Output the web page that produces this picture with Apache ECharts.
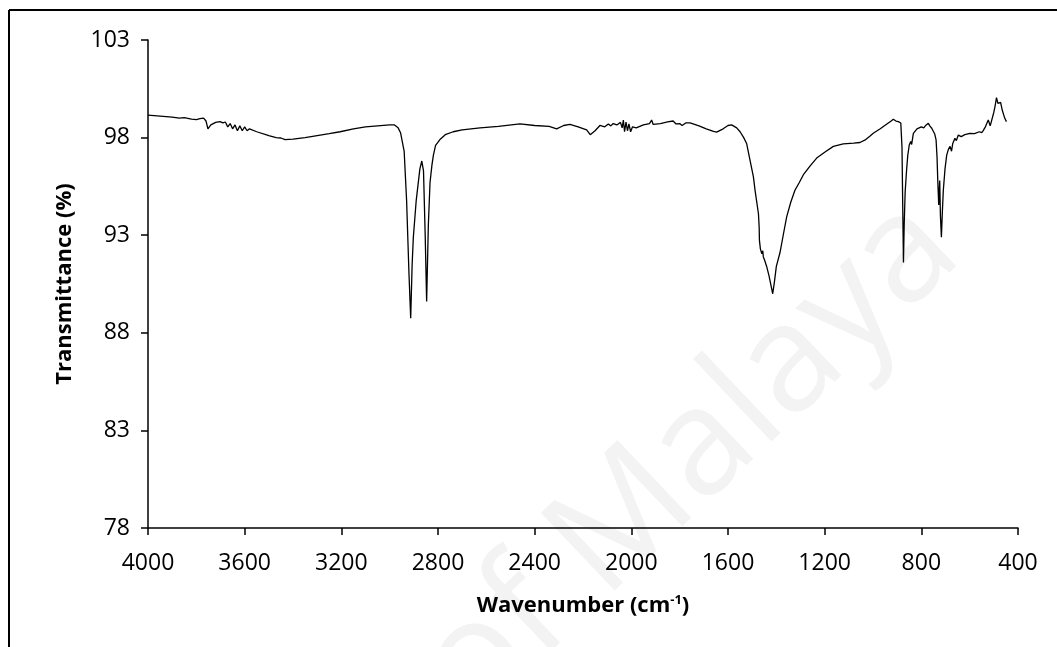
<!DOCTYPE html>
<html>
<head>
<meta charset="utf-8">
<script src="https://cdn.jsdelivr.net/npm/echarts@6/dist/echarts.min.js"></script>
<style>html,body{margin:0;padding:0;background:#fff}#c{width:1057px;height:647px}</style>
</head>
<body>
<div id="c"></div>
<script>
const wavenumbers = [4000,3950,3900,3870,3850,3820,3800,3785,3770,3760,3752,3740,3720,3702,3690,3680,3670,3660,3650,3640,3630,3620,3610,3600,3590,3580,3550,3500,3470,3450,3433,3400,3350,3300,3250,3205,3150,3100,3050,3000,2980,2965,2955,2950,2940,2930,2920,2913,2907,2902,2890,2875,2867,2860,2853,2847,2840,2833,2825,2819,2810,2792,2770,2737,2700,2626,2550,2461,2400,2340,2309,2280,2254,2220,2185,2170,2164,2150,2130,2110,2095,2085,2075,2060,2045,2038,2033,2028,2022,2016,2010,2003,1995,1980,1950,1925,1916,1910,1880,1850,1827,1815,1800,1790,1775,1757,1720,1690,1660,1647,1620,1600,1585,1564,1550,1535,1523,1509,1495,1488,1474,1471,1470,1466,1460,1456,1454,1448,1440,1430,1420,1415,1408,1400,1385,1370,1357,1340,1323,1305,1288,1260,1233,1200,1164,1123,1080,1054,1030,1012,999,970,944,925,916,905,900,895,885,880,877,874,871,867,861,856,850,844,840,833,825,818,812,800,790,780,771,765,757,745,739,735,732,728,724,721,717,713,709,702,695,688,681,675,670,661,655,647,635,620,599,580,560,550,544,535,523,515,509,500,495,489,483,478,472,465,455,448];
const transmittance = [99.15,99.1,99.05,99.0,99.02,98.95,98.92,98.97,99.0,98.85,98.45,98.65,98.78,98.82,98.75,98.8,98.55,98.72,98.45,98.65,98.35,98.6,98.35,98.55,98.35,98.45,98.3,98.1,98.0,97.98,97.9,97.92,98.0,98.1,98.2,98.3,98.45,98.55,98.6,98.65,98.65,98.5,98.25,98.2,97.3,94.8,91.0,88.75,91.5,92.9,94.8,96.4,96.8,96.3,93.0,89.6,93.5,95.7,96.6,97.1,97.6,97.9,98.15,98.3,98.4,98.5,98.58,98.7,98.62,98.58,98.45,98.62,98.68,98.55,98.4,98.15,98.1,98.35,98.62,98.55,98.7,98.6,98.72,98.65,98.78,98.5,98.9,98.3,98.8,98.35,98.7,98.3,98.55,98.5,98.65,98.72,98.9,98.68,98.72,98.8,98.85,98.7,98.72,98.62,98.75,98.75,98.6,98.45,98.32,98.28,98.45,98.62,98.65,98.5,98.3,98.0,97.7,96.85,96.0,95.3,94.1,93.4,92.75,92.3,92.05,92.2,91.9,91.7,91.4,90.9,90.3,90.0,90.6,91.4,92.1,93.1,93.95,94.7,95.3,95.7,96.1,96.55,96.95,97.25,97.55,97.68,97.72,97.75,97.9,98.08,98.22,98.45,98.68,98.85,98.94,98.85,98.95,98.82,98.75,97.5,94.5,91.6,93.5,95.2,96.34,97.1,97.62,97.8,97.65,98.22,98.3,98.45,98.4,98.55,98.5,98.65,98.73,98.6,98.48,98.2,97.88,97.0,95.8,94.55,95.8,94.0,92.9,94.2,95.3,96.4,97.1,97.4,97.55,97.3,97.7,97.96,97.85,98.13,98.05,98.15,98.22,98.2,98.3,98.25,98.36,98.55,98.9,98.6,98.65,99.3,99.6,100.05,99.75,99.65,99.8,99.4,99.0,98.82];
const yTicks = [78, 83, 88, 93, 98, 103];
const xTicks = [400, 800, 1200, 1600, 2000, 2400, 2800, 3200, 3600, 4000];

const chart = echarts.init(document.getElementById('c'), null, {renderer: 'canvas'});
const FONT = '"Open Sans", "Liberation Sans", sans-serif';
const data = wavenumbers.map((w, i) => [w, transmittance[i]]);

chart.setOption({
  animation: false,
  backgroundColor: '#fff',
  graphic: [
    {type: 'line', shape: {x1: 9, y1: 10, x2: 1057, y2: 10}, style: {stroke: '#000', lineWidth: 2}},
    {type: 'line', shape: {x1: 9, y1: 10, x2: 9, y2: 647}, style: {stroke: '#000', lineWidth: 2}},
    {type: 'text', x: 690, y: 460, rotation: 0.76, z: -1,
     style: {text: 'of Malaya', fill: '#f3f3f3', font: '150px "Open Sans", sans-serif', textAlign: 'center', textVerticalAlign: 'middle'}}
  ],
  grid: {left: 148, right: 39, top: 40, bottom: 119, containLabel: false},
  xAxis: {
    type: 'value', inverse: true, min: 400, max: 4000, interval: 400,
    name: '{n|Wavenumber (cm}{s|-1}{n|)}',
    nameLocation: 'middle', nameGap: 66,
    nameTextStyle: {rich: {
      n: {fontFamily: FONT, fontWeight: 'bold', fontSize: 22, color: '#000', verticalAlign: 'bottom'},
      s: {fontFamily: FONT, fontWeight: 'bold', fontSize: 13, color: '#000', verticalAlign: 'top', padding: [0, 0, 10, 0]}
    }},
    axisLine: {show: true, onZero: false, lineStyle: {color: '#000', width: 1.5}},
    axisTick: {show: true, inside: false, length: 7, lineStyle: {color: '#000', width: 1.5}},
    axisLabel: {margin: 24, fontFamily: FONT, fontSize: 23, color: '#000',
      formatter: v => xTicks.includes(v) ? String(v) : ''},
    splitLine: {show: false}
  },
  yAxis: {
    type: 'value', min: 78, max: 103, interval: 5,
    name: 'Transmittance (%)', nameLocation: 'middle', nameGap: 72, nameRotate: 90,
    nameTextStyle: {fontFamily: FONT, fontWeight: 'bold', fontSize: 22, color: '#000'},
    axisLine: {show: true, onZero: false, lineStyle: {color: '#000', width: 1.5}},
    axisTick: {show: true, inside: false, length: 7, lineStyle: {color: '#000', width: 1.5}},
    axisLabel: {margin: 18, fontFamily: FONT, fontSize: 23, color: '#000',
      formatter: v => yTicks.includes(v) ? String(v) : ''},
    splitLine: {show: false}
  },
  series: [{
    type: 'line', data: data, showSymbol: false, symbol: 'none',
    lineStyle: {color: '#000', width: 1.3}, z: 3
  }]
});
</script>
</body>
</html>
